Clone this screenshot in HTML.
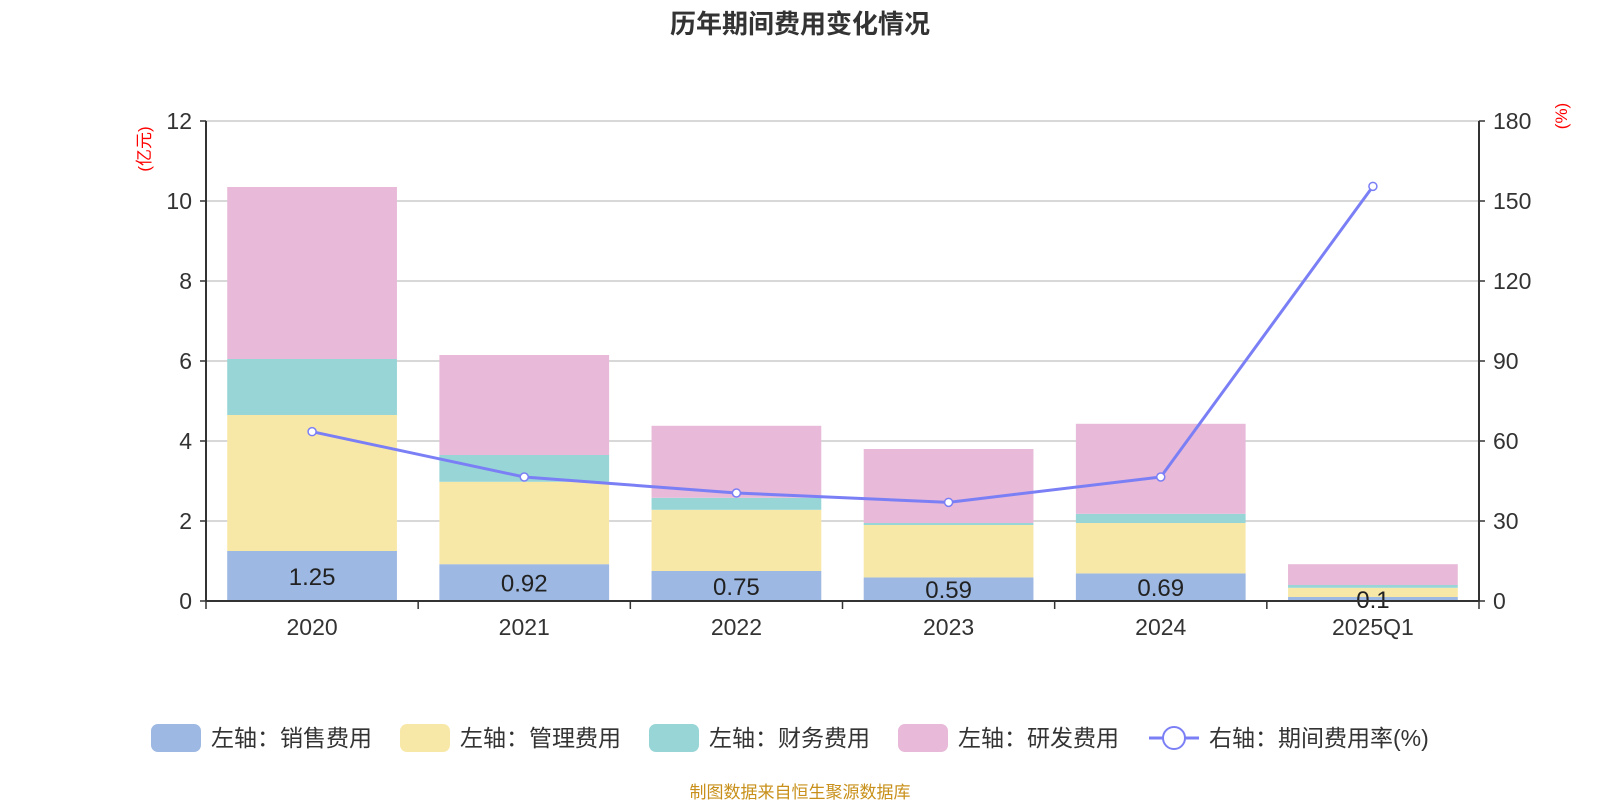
<!DOCTYPE html>
<html><head><meta charset="utf-8"><style>
body{margin:0;width:1600px;height:800px;background:#fff;overflow:hidden}
svg{font-family:"Liberation Sans","Noto Sans CJK SC",sans-serif}
</style></head><body>
<svg id="c" width="1600" height="800"></svg>
<script>
const categories=["2020","2021","2022","2023","2024","2025Q1"];
const sales=[1.25,0.92,0.75,0.59,0.69,0.1];
const admin=[3.4,2.06,1.53,1.31,1.26,0.23];
const finance=[1.4,0.67,0.3,0.05,0.23,0.07];
const rnd=[4.3,2.5,1.8,1.85,2.25,0.52];
const rate=[63.5,46.5,40.5,37,46.5,155.5];
const leftTicks=[0,2,4,6,8,10,12];
const rightTicks=[0,30,60,90,120,150,180];
const NS="http://www.w3.org/2000/svg";
const svg=document.getElementById('c');
const L=206,R=1479,T=121,B=601;
const yL=v=>B-(v/12)*(B-T);
const yR=v=>B-(v/180)*(B-T);
const band=(R-L)/categories.length;
const xC=i=>L+band*(i+0.5);
function el(tag,a,txt){const e=document.createElementNS(NS,tag);for(const k in a)e.setAttribute(k,a[k]);if(txt!==undefined)e.textContent=txt;svg.appendChild(e);return e;}
let t=el('text',{x:800,y:33,'text-anchor':'middle','font-size':26,'font-weight':'bold',fill:'#333'},'历年期间费用变化情况');


leftTicks.forEach((v,i)=>{
 if(v>0){const g=el('line',{x1:L,x2:R,y1:yL(v),y2:yL(v),stroke:'#ccc','stroke-width':1.5});
 
 }
 const a=el('text',{x:L-14,y:yL(v)+8,'text-anchor':'end','font-size':23,fill:'#333'},v);
 
 
 el('line',{x1:L-6,x2:L,y1:yL(v),y2:yL(v),stroke:'#333','stroke-width':1.5});
 const b=el('text',{x:R+14,y:yR(rightTicks[i])+8,'font-size':23,fill:'#333'},rightTicks[i]);
 
 
 el('line',{x1:R,x2:R+6,y1:yR(rightTicks[i]),y2:yR(rightTicks[i]),stroke:'#333','stroke-width':1.5});
});
let u=el('text',{x:0,y:0,'font-size':17,fill:'red','text-anchor':'middle',transform:`translate(150,${T+28}) rotate(-90)`},'(亿元)');


u=el('text',{x:0,y:0,'font-size':17,fill:'red','text-anchor':'middle',transform:`translate(1567,${T-5}) rotate(-90)`},'(%)');


const series=[[sales,'#9db8e2','sales-bar'],[admin,'#f8e8a8','admin-bar'],[finance,'#98d5d6','finance-bar'],[rnd,'#e8b9d8','rnd-bar']];
const bw=band*0.8;
categories.forEach((c,i)=>{
 let base=0;
 series.forEach(([arr,col,name])=>{
  const r=el('rect',{x:xC(i)-bw/2,y:yL(base+arr[i]),width:bw,height:yL(base)-yL(base+arr[i]),fill:col});
  
  
  base+=arr[i];
 });
 const lb=el('text',{x:xC(i),y:(yL(sales[i])+B)/2+9,'text-anchor':'middle','font-size':24,fill:'#222'},sales[i]);
 
 
 const xl=el('text',{x:xC(i),y:B+34,'text-anchor':'middle','font-size':23,fill:'#333'},c);
 
 
});
for(let i=0;i<=categories.length;i++){el('line',{x1:L+band*i,x2:L+band*i,y1:B,y2:B+8,stroke:'#333','stroke-width':1.5});}
el('line',{x1:L,x2:R,y1:B,y2:B,stroke:'#333','stroke-width':2});
el('line',{x1:L,x2:L,y1:T,y2:B,stroke:'#333','stroke-width':2});
el('line',{x1:R,x2:R,y1:T,y2:B,stroke:'#333','stroke-width':2});
const pl=el('polyline',{points:rate.map((v,i)=>xC(i)+','+yR(v)).join(' '),fill:'none',stroke:'#7b7ff5','stroke-width':3});


rate.forEach((v,i)=>{const p=el('circle',{cx:xC(i),cy:yR(v),r:4,fill:'#fff',stroke:'#7b7ff5','stroke-width':1.5});
 
 });
const leg=[['左轴：销售费用','#9db8e2',151],['左轴：管理费用','#f8e8a8',400],['左轴：财务费用','#98d5d6',649],['左轴：研发费用','#e8b9d8',898]];
const ly=738;
leg.forEach(([txt,col,x])=>{
 const r=el('rect',{x:x,y:ly-14,width:50,height:28,rx:7,fill:col});
 
 
 const tt=el('text',{x:x+60,y:ly+8,'font-size':23,fill:'#333'},txt);
 
 
});
el('line',{x1:1149,x2:1199,y1:ly,y2:ly,stroke:'#7b7ff5','stroke-width':3});
el('circle',{cx:1174,cy:ly,r:11,fill:'#fff',stroke:'#7b7ff5','stroke-width':2});
let lt=el('text',{x:1209,y:ly+8,'font-size':23,fill:'#333'},'右轴：期间费用率(%)');


let s=el('text',{x:800,y:798,'text-anchor':'middle','font-size':17,fill:'#c8901a'},'制图数据来自恒生聚源数据库');


</script>
</body></html>
